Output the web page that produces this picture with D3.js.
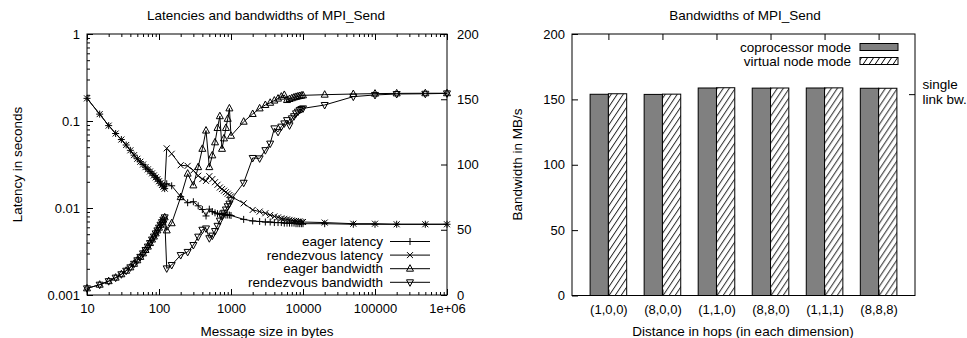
<!DOCTYPE html>
<html lang="en">
<head>
  <meta charset="UTF-8">
  <title>MPI_Send latencies and bandwidths</title>
  <style>
    body { margin: 0; background: #fff; }
    svg { display: block; font-family: "Liberation Sans", Arial, sans-serif; font-size: 13.5px; }
    .tick text { font-size: 13px; fill: #000; }
    .tick line { stroke: #000; }
    .series { fill: none; stroke: #000; stroke-width: 1; }
    .marker { fill: none; stroke: #000; stroke-width: 1; }
  </style>
</head>
<body>
  <div id="chart"></div>

  <script src="https://d3js.org/d3.v7.min.js"></script>
  <script>
    // ---- data ----
    const msgSizes = [
      10, 15, 20, 25, 30, 35, 40, 45, 50, 55, 60, 65, 70, 75, 80, 85, 90, 95, 100, 105, 110, 115, 120,
      128, 150, 200, 250, 300, 350, 400, 450, 500, 550, 600, 650, 700, 750, 800, 850, 900, 950, 1000,
      1500, 2000, 2500, 3000, 3500, 4000, 4500, 5000, 5500, 6000, 6500, 7000, 7500, 8000, 8500, 9000, 9500, 10000,
      20000, 50000, 100000, 200000, 500000, 1000000
    ];
    const eagerLatency = [
      0.182, 0.120, 0.0885, 0.0718, 0.0612, 0.0530, 0.0460, 0.0405, 0.0368, 0.0340, 0.0316, 0.0295, 0.0278, 0.0263, 0.0250, 0.0237, 0.0225, 0.0214, 0.0203, 0.0193, 0.0184, 0.0175, 0.0167,
      0.0190, 0.0180, 0.0135, 0.0115, 0.0118, 0.0106, 0.0096, 0.0081, 0.0097, 0.0091, 0.0088, 0.0086, 0.0085, 0.0084, 0.0084, 0.0083, 0.0083, 0.0083, 0.0082,
      0.0074, 0.0071, 0.0070, 0.0069, 0.0069, 0.0068, 0.0068, 0.0068, 0.0067, 0.0067, 0.0067, 0.0067, 0.0067, 0.0066, 0.0066, 0.0066, 0.0066, 0.0066,
      0.0066, 0.0065, 0.0065, 0.0065, 0.0065, 0.0065
    ];
    const rendezvousLatency = [
      0.182, 0.120, 0.0885, 0.0718, 0.0612, 0.0530, 0.0460, 0.0405, 0.0368, 0.0340, 0.0316, 0.0295, 0.0278, 0.0263, 0.0250, 0.0237, 0.0225, 0.0214, 0.0203, 0.0193, 0.0184, 0.0175, 0.0167,
      0.0485, 0.0420, 0.0310, 0.0305, 0.0270, 0.0235, 0.0215, 0.0205, 0.0232, 0.0215, 0.0198, 0.0185, 0.0172, 0.0165, 0.0158, 0.0152, 0.0146, 0.0141, 0.0136,
      0.0113, 0.0095, 0.0091, 0.0087, 0.0083, 0.0080, 0.0078, 0.0076, 0.0075, 0.0074, 0.0073, 0.0072, 0.0071, 0.0071, 0.0070, 0.0070, 0.0069, 0.0069,
      0.0068, 0.0066, 0.0066, 0.0065, 0.0065, 0.0065
    ];
    const eagerBandwidth = [
      5.1, 7.9, 10.6, 13.3, 15.9, 18.6, 21.2, 23.9, 26.6, 29.2, 31.9, 34.5, 37.1, 39.8, 42.5, 44.8, 47.2, 49.5, 51.6, 53.8, 55.8, 57.7, 59.5,
      49.5, 55, 75, 93, 84, 98, 112, 126, 98, 107, 117, 128, 137, 112, 120, 128, 135, 143, 122,
      132.8, 138.7, 143, 145.6, 147.3, 149, 150.5, 152, 153.3, 149.4, 150.2, 150.8, 151.4, 151.8, 152.2, 152.5, 152.8, 153,
      153.5, 154, 154.3, 154.5, 154.6, 154.6
    ];
    const rendezvousBandwidth = [
      5.1, 7.9, 10.6, 13.3, 15.9, 18.6, 21.2, 23.9, 26.6, 29.2, 31.9, 34.5, 37.1, 39.8, 42.5, 44.8, 47.2, 49.5, 51.6, 53.8, 55.8, 57.7, 59.5,
      20.4, 23, 30.6, 33, 38.3, 44.7, 50, 51, 43.5, 45.5, 49, 53, 57, 60.5, 63, 65.5, 68, 70, 73,
      86, 105, 104.7, 111, 116, 127.7, 125, 129, 131.5, 134, 130, 135.4, 137, 139.2, 140.5, 141.8, 142.5, 143,
      145.6, 152, 153.3, 154, 154.2, 154.5
    ];
    const sizeTicks = [10, 100, 1000, 10000, 100000, 1000000];
    const sizeTickLabels = ['10', '100', '1000', '10000', '100000', '1e+06'];
    const latencyTicks = [0.001, 0.01, 0.1, 1];
    const latencyTickLabels = ['0.001', '0.01', '0.1', '1'];
    const bandwidthTicks = [0, 50, 100, 150, 200];

    const hopLabels = ['(1,0,0)', '(8,0,0)', '(1,1,0)', '(8,8,0)', '(1,1,1)', '(8,8,8)'];
    const coprocessorBw = [153.9, 153.8, 158.7, 158.6, 158.7, 158.5];
    const virtualNodeBw = [154.3, 154.0, 158.9, 158.7, 158.8, 158.5];
    const singleLinkBw = 154;

    const W = 967, H = 338;
    const svg = d3.select('#chart').append('svg').attr('width', W).attr('height', H);

    const defs = svg.append('defs');
    const pat = defs.append('pattern')
      .attr('id', 'hatch')
      .attr('patternUnits', 'userSpaceOnUse')
      .attr('width', 6).attr('height', 9);
    pat.append('rect').attr('width', 6).attr('height', 9).attr('fill', '#fff');
    pat.append('path')
      .attr('d', 'M-1,10.5 L7,-1.5 M-7,10.5 L1,-1.5 M5,10.5 L13,-1.5')
      .attr('stroke', '#000').attr('stroke-width', 1);

    // ---------------- left chart ----------------
    const L = { left: 87, right: 447, top: 34, bottom: 295 };

    const x = d3.scaleLog().domain([10, 1e6]).range([L.left, L.right]);
    const yLat = d3.scaleLog().domain([0.001, 1]).range([L.bottom, L.top]);
    const yBw = d3.scaleLinear().domain([0, 200]).range([L.bottom, L.top]);

    const minorX = [];
    for (let d = 10; d < 1e6; d *= 10) for (let k = 2; k < 10; k++) minorX.push(d * k);
    const minorY = [];
    for (let d = 0.001; d < 0.9; d *= 10) for (let k = 2; k < 10; k++) minorY.push(d * k);

    const left = svg.append('g');

    function cleanAxis(g) { g.select('.domain').remove(); }

    left.append('g').attr('transform', `translate(0,${L.bottom})`)
      .call(d3.axisBottom(x).tickValues(sizeTicks).tickFormat((d, i) => sizeTickLabels[i]).tickSizeInner(-6).tickSizeOuter(0).tickPadding(9))
      .call(cleanAxis);
    left.append('g').attr('transform', `translate(0,${L.bottom})`)
      .call(d3.axisBottom(x).tickValues(minorX).tickFormat('').tickSizeInner(-3).tickSizeOuter(0))
      .call(cleanAxis);
    left.append('g').attr('transform', `translate(0,${L.top})`)
      .call(d3.axisTop(x).tickValues(sizeTicks).tickFormat('').tickSizeInner(-6).tickSizeOuter(0))
      .call(cleanAxis);
    left.append('g').attr('transform', `translate(0,${L.top})`)
      .call(d3.axisTop(x).tickValues(minorX).tickFormat('').tickSizeInner(-3).tickSizeOuter(0))
      .call(cleanAxis);

    left.append('g').attr('transform', `translate(${L.left},0)`)
      .call(d3.axisLeft(yLat).tickValues(latencyTicks).tickFormat((d, i) => latencyTickLabels[i]).tickSizeInner(-6).tickSizeOuter(0).tickPadding(7))
      .call(cleanAxis);
    left.append('g').attr('transform', `translate(${L.left},0)`)
      .call(d3.axisLeft(yLat).tickValues(minorY).tickFormat('').tickSizeInner(-3).tickSizeOuter(0))
      .call(cleanAxis);
    left.append('g').attr('transform', `translate(${L.right},0)`)
      .call(d3.axisRight(yBw).tickValues(bandwidthTicks).tickFormat(d3.format('d')).tickSizeInner(-6).tickSizeOuter(0).tickPadding(10))
      .call(cleanAxis);

    left.append('rect')
      .attr('x', L.left).attr('y', L.top)
      .attr('width', L.right - L.left).attr('height', L.bottom - L.top)
      .attr('fill', 'none').attr('stroke', '#000').attr('stroke-width', 1);

    const markers = {
      plus: (cx, cy) => `M${cx - 3.5},${cy}H${cx + 3.5}M${cx},${cy - 3.5}V${cy + 3.5}`,
      cross: (cx, cy) => `M${cx - 3},${cy - 3}L${cx + 3},${cy + 3}M${cx - 3},${cy + 3}L${cx + 3},${cy - 3}`,
      triUp: (cx, cy) => `M${cx},${cy - 4}L${cx + 3.5},${cy + 2.5}L${cx - 3.5},${cy + 2.5}Z`,
      triDown: (cx, cy) => `M${cx},${cy + 4}L${cx + 3.5},${cy - 2.5}L${cx - 3.5},${cy - 2.5}Z`
    };

    const seriesList = [
      { name: 'eager latency', values: eagerLatency, y: yLat, marker: 'plus' },
      { name: 'rendezvous latency', values: rendezvousLatency, y: yLat, marker: 'cross' },
      { name: 'eager bandwidth', values: eagerBandwidth, y: yBw, marker: 'triUp' },
      { name: 'rendezvous bandwidth', values: rendezvousBandwidth, y: yBw, marker: 'triDown' }
    ];

    const plot = left.append('g');
    seriesList.forEach(s => {
      const pts = msgSizes.map((m, i) => [x(m), s.y(s.values[i])]);
      plot.append('path').attr('class', 'series').attr('d', d3.line()(pts));
      plot.append('path').attr('class', 'marker')
        .attr('d', pts.map(p => markers[s.marker](p[0], p[1])).join(''));
    });

    // legend
    const legend = left.append('g');
    seriesList.forEach((s, i) => {
      const cy = 241.5 + i * 13.6;
      legend.append('text').attr('x', 383).attr('y', cy).attr('dy', '0.35em')
        .attr('text-anchor', 'end').text(s.name);
      legend.append('line').attr('x1', 390).attr('x2', 430).attr('y1', cy).attr('y2', cy)
        .attr('stroke', '#000');
      legend.append('path').attr('class', 'marker').attr('d', markers[s.marker](410, cy));
    });

    left.append('text').attr('x', 266).attr('y', 15).attr('dy', '0.35em')
      .attr('text-anchor', 'middle').text('Latencies and bandwidths of MPI_Send');
    left.append('text').attr('x', 267).attr('y', 331).attr('dy', '0.35em')
      .attr('text-anchor', 'middle').text('Message size in bytes');
    left.append('text').attr('transform', 'translate(17,164.5) rotate(-90)').attr('dy', '0.35em')
      .attr('text-anchor', 'middle').text('Latency in seconds');

    // ---------------- right chart ----------------
    const R = { left: 572, right: 915, top: 34, bottom: 295.5 };
    const right = svg.append('g');

    const xb = d3.scaleBand().domain(hopLabels).range([R.left, R.right])
      .paddingInner(0.323).paddingOuter(0.335);
    const xSub = d3.scaleBand().domain(['co', 'vn']).range([0, xb.bandwidth()]);
    const yb = d3.scaleLinear().domain([0, 200]).range([R.bottom, R.top]);

    const groups = right.append('g').selectAll('g').data(hopLabels).enter().append('g')
      .attr('transform', d => `translate(${xb(d)},0)`);
    groups.append('rect')
      .attr('x', xSub('co')).attr('width', xSub.bandwidth())
      .attr('y', (d, i) => yb(coprocessorBw[i]))
      .attr('height', (d, i) => yb(0) - yb(coprocessorBw[i]))
      .attr('fill', '#808080').attr('stroke', '#000').attr('stroke-width', 1);
    groups.append('rect')
      .attr('x', xSub('vn')).attr('width', xSub.bandwidth())
      .attr('y', (d, i) => yb(virtualNodeBw[i]))
      .attr('height', (d, i) => yb(0) - yb(virtualNodeBw[i]))
      .attr('fill', 'url(#hatch)').attr('stroke', '#000').attr('stroke-width', 1);

    const xbCenter = d3.scalePoint().domain(hopLabels)
      .range([xb(hopLabels[0]) + xb.bandwidth() / 2, xb(hopLabels[5]) + xb.bandwidth() / 2]);

    right.append('g').attr('transform', `translate(0,${R.bottom})`)
      .call(d3.axisBottom(xbCenter).tickSizeInner(-6).tickSizeOuter(0).tickPadding(9))
      .call(cleanAxis);
    right.append('g').attr('transform', `translate(0,${R.top})`)
      .call(d3.axisTop(xbCenter).tickFormat('').tickSizeInner(-6).tickSizeOuter(0))
      .call(cleanAxis);
    right.append('g').attr('transform', `translate(${R.left},0)`)
      .call(d3.axisLeft(yb).tickValues(bandwidthTicks).tickFormat(d3.format('d')).tickSizeInner(-6).tickSizeOuter(0).tickPadding(7))
      .call(cleanAxis);
    right.append('g').attr('transform', `translate(${R.right},0)`)
      .call(d3.axisRight(yb).tickValues([singleLinkBw]).tickFormat('').tickSizeInner(-6).tickSizeOuter(0))
      .call(cleanAxis);
    const y2text = right.append('text').attr('x', R.right + 7.5).attr('y', yb(singleLinkBw));
    y2text.append('tspan').attr('x', R.right + 7.5).attr('dy', '-0.35em').text('single');
    y2text.append('tspan').attr('x', R.right + 7.5).attr('dy', '1.05em').text('link bw.');

    right.append('rect')
      .attr('x', R.left).attr('y', R.top)
      .attr('width', R.right - R.left).attr('height', R.bottom - R.top)
      .attr('fill', 'none').attr('stroke', '#000').attr('stroke-width', 1);

    const barLegend = [
      { name: 'coprocessor mode', fill: '#808080' },
      { name: 'virtual node mode', fill: 'url(#hatch)' }
    ];
    barLegend.forEach((b, i) => {
      const cy = 47 + i * 14;
      right.append('text').attr('x', 851).attr('y', cy).attr('dy', '0.35em')
        .attr('text-anchor', 'end').text(b.name);
      right.append('rect').attr('x', 860).attr('y', cy - 3.5).attr('width', 38).attr('height', 7)
        .attr('fill', b.fill).attr('stroke', '#000').attr('stroke-width', 1);
    });

    right.append('text').attr('x', 745).attr('y', 15).attr('dy', '0.35em')
      .attr('text-anchor', 'middle').text('Bandwidths of MPI_Send');
    right.append('text').attr('x', 743).attr('y', 331).attr('dy', '0.35em')
      .attr('text-anchor', 'middle').text('Distance in hops (in each dimension)');
    right.append('text').attr('transform', 'translate(517,164.5) rotate(-90)').attr('dy', '0.35em')
      .attr('text-anchor', 'middle').text('Bandwidth in MB/s');
  </script>
</body>
</html>
